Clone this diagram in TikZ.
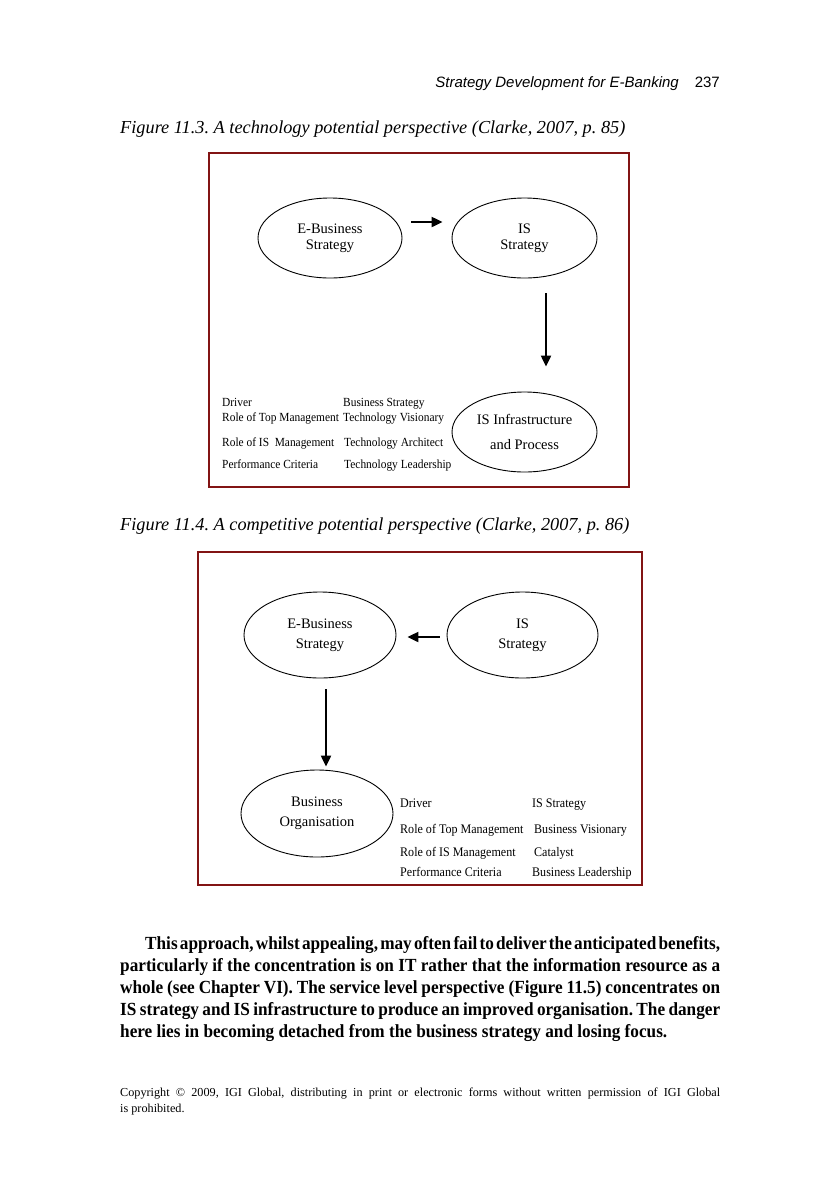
\documentclass[tikz,border=0pt]{standalone}
\usepackage{fontspec}
\setmainfont{Liberation Serif}
\setsansfont{Liberation Sans}
\newfontfamily\bodyfont[FakeStretch=0.93]{Liberation Serif}
\newfontfamily\smallfont[FakeStretch=0.92]{Liberation Serif}
\usetikzlibrary{arrows.meta,shapes.geometric}
\definecolor{framered}{RGB}{130,20,20}
\frenchspacing
\begin{document}
\begin{tikzpicture}[x=1pt,y=-1pt,
  frame/.style={draw=framered, line width=1.3pt},
  oval/.style={ellipse, draw, line width=0.9pt, inner sep=0pt, align=center,
    font=\fontsize{14.5}{16}\selectfont},
  arr/.style={line width=2.2pt, -{Triangle[length=11pt,width=10pt]}},
  lblA/.style={anchor=base west, inner sep=0pt, font=\smallfont\fontsize{12.4}{13}\selectfont},
  lblB/.style={anchor=base west, inner sep=0pt, font=\smallfont\fontsize{13.1}{14}\selectfont},
  caption/.style={anchor=base west, inner sep=0pt, font=\itshape\fontsize{18.3}{21}\selectfont},
]
\useasboundingbox (0,0) rectangle (840,1200);
\fill[white] (0,0) rectangle (840,1200);

% header
\node[anchor=base east, inner sep=0pt, font=\sffamily\itshape\fontsize{15}{18}\selectfont] (hdr) at (679,87) {Strategy Development for E-Banking};
\node[anchor=base east, inner sep=0pt, font=\sffamily\fontsize{15}{18}\selectfont] (pg) at (720,87) {237};

% ---------- Figure 11.3 ----------
\node[caption] (cap1) at (120,133) {Figure 11.3. A technology potential perspective (Clarke, 2007, p. 85)};
\draw[frame] (209,153) rectangle (629,487);

\node[oval, minimum width=144pt, minimum height=80pt] (a1) at (330,238) {E-Business\\Strategy};
\node[oval, minimum width=145pt, minimum height=80pt] (a2) at (524.5,238) {IS\\Strategy};
\node[oval, minimum width=145pt, minimum height=80pt] (a3) at (524.5,432) {IS Infrastructure\\[9pt]and Process};

\draw[arr] ([xshift=9pt,yshift=16pt]a1.east) -- ([xshift=-9pt,yshift=16pt]a2.west);
\draw[arr] ([xshift=21.5pt,yshift=-15pt]a2.south) -- ([xshift=21.5pt,yshift=25pt]a3.north);

\node[lblA] (l11) at (222,406) {Driver};
\node[lblA] (l12) at (222,421) {Role of Top Management};
\node[lblA] (l13) at (222,446) {Role of IS\ \ Management};
\node[lblA] (l14) at (222,468) {Performance Criteria};
\node[lblA] (r11) at (343,406) {Business Strategy};
\node[lblA] (r12) at (343,421) {Technology Visionary};
\node[lblA] (r13) at (344,446) {Technology Architect};
\node[lblA] (r14) at (344,468) {Technology Leadership};

% ---------- Figure 11.4 ----------
\node[caption] (cap2) at (120,530) {Figure 11.4. A competitive potential perspective (Clarke, 2007, p. 86)};
\draw[frame] (198,552) rectangle (642,885);

\node[oval, minimum width=152pt, minimum height=86pt] (b1) at (320,635) {E-Business\\[4pt]Strategy};
\node[oval, minimum width=151pt, minimum height=86pt] (b2) at (522.5,635) {IS\\[4pt]Strategy};
\node[oval, minimum width=152pt, minimum height=87pt] (b3) at (317,813.5) {Business\\[4pt]Organisation};

\draw[arr] ([xshift=-7pt,yshift=-2pt]b2.west) -- ([xshift=11pt,yshift=-2pt]b1.east);
\draw[arr] ([xshift=6pt,yshift=-11pt]b1.south) -- ([xshift=9pt,yshift=3pt]b3.north);

\node[lblB] (l21) at (400,807) {Driver};
\node[lblB] (l22) at (400,833) {Role of Top Management};
\node[lblB] (l23) at (400,856) {Role of IS Management};
\node[lblB] (l24) at (400,876) {Performance Criteria};
\node[lblB] (r21) at (532,807) {IS Strategy};
\node[lblB] (r22) at (534,833) {Business Visionary};
\node[lblB] (r23) at (534,856) {Catalyst};
\node[lblB] (r24) at (532,876) {Business Leadership};

% ---------- body text ----------
\node[anchor=base west, inner sep=0pt, text width=600pt, align=justify,
  font=\bodyfont\bfseries\fontsize{18.5}{22}\selectfont] (para) at (120,949)
{\hyphenpenalty=10000\exhyphenpenalty=10000\hbadness=10000\hfuzz=20pt
\hspace*{25pt}{\spaceskip=1.2pt plus 6pt minus 0.5pt This approach, whilst appealing, may often fail to deliver the anticipated benefits,}\linebreak
particularly if the concentration is on IT rather that the information resource as a\linebreak
whole (see Chapter VI). The service level perspective (Figure 11.5) concentrates on\linebreak
IS strategy and IS infrastructure to produce an improved organisation. The danger\linebreak
here lies in becoming detached from the business strategy and losing focus.};

\node[anchor=base west, inner sep=0pt, text width=600pt, align=justify,
  font=\fontsize{12.2}{16}\selectfont] (copy) at (120,1096)
{Copyright \textcopyright\ 2009, IGI Global, distributing in print or electronic forms without written permission of IGI Global\linebreak
is prohibited.};
\end{tikzpicture}
\end{document}
